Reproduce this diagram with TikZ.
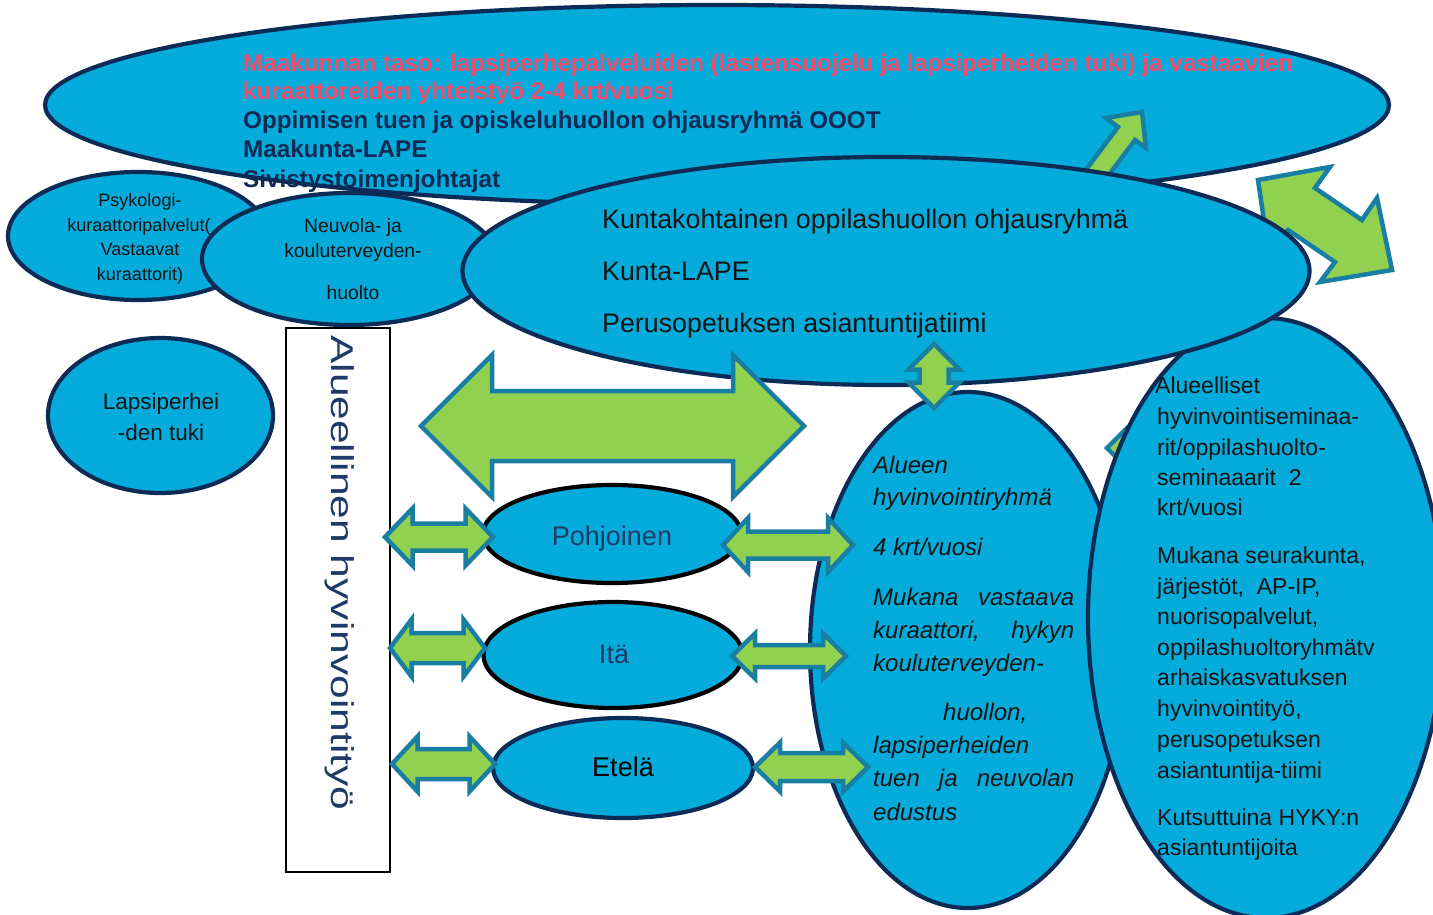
\documentclass[tikz,border=0pt]{standalone}
\usepackage{fontspec}
\setmainfont{Liberation Sans}
\newfontfamily\vertfont[FakeStretch=1.35]{Liberation Sans}
\usetikzlibrary{shapes.geometric}
\definecolor{elfill}{HTML}{05ABDA}
\definecolor{elline}{HTML}{0D2B57}
\definecolor{agreen}{HTML}{92D050}
\definecolor{ateal}{HTML}{187FA2}
\definecolor{redtxt}{HTML}{F24E6C}
\definecolor{navytxt}{HTML}{0E2A55}
\definecolor{regnavy}{HTML}{1F3A68}
\definecolor{txtblack}{HTML}{141414}
\tikzset{
  ell/.style={ellipse, draw=elline, line width=4.2pt, fill=elfill, inner sep=0pt},
  arr/.style={fill=agreen, draw=ateal, line width=4.5pt, line join=miter},
  toptext/.style={anchor=base west, inner sep=0pt, font=\fontsize{24.2}{28}\selectfont\bfseries},
  smalltext/.style={anchor=base, inner sep=0pt, text=txtblack, font=\fontsize{18}{21}\selectfont},
  neutext/.style={anchor=base, inner sep=0pt, text=txtblack, font=\fontsize{19.3}{22}\selectfont},
  kuntatext/.style={anchor=base west, inner sep=0pt, text=txtblack, font=\fontsize{26.8}{30}\selectfont},
  alutext/.style={anchor=base west, inner sep=0pt, text=txtblack, font=\fontsize{24}{28}\selectfont\itshape},
  rtext/.style={anchor=base west, inner sep=0pt, text=txtblack, font=\fontsize{23}{27}\selectfont},
  regtext/.style={anchor=base, inner sep=0pt, font=\fontsize{27}{31}\selectfont}
}
\newcommand\DArr[4]{%
  \draw[arr] (-#1,0) -- ({-#1+#2},-#3) -- ({-#1+#2},-#4) -- ({#1-#2},-#4) -- ({#1-#2},-#3) -- (#1,0)
    -- ({#1-#2},#3) -- ({#1-#2},#4) -- ({-#1+#2},#4) -- ({-#1+#2},#3) -- cycle;}
\begin{document}
\begin{tikzpicture}[x=1pt,y=-1pt]
\useasboundingbox (0,0) rectangle (1433,915);
\fill[white] (0,0) rectangle (1433,915);
\clip (0,0) rectangle (1433,915);

% top ellipse
\node[ell, minimum width=1344pt, minimum height=200pt] (top) at (717,105) {};
\node[toptext, text=redtxt] (r1) at (243,72) {Maakunnan taso: lapsiperhepalveluiden (lastensuojelu ja lapsiperheiden tuki) ja vastaavien};
\node[toptext, text=redtxt] (r2) at (243,100) {kuraattoreiden yhteistyö 2-4 krt/vuosi};
\node[toptext, text=navytxt] (n1) at (243,129) {Oppimisen tuen ja opiskeluhuollon ohjausryhmä OOOT};
\node[toptext, text=navytxt] (n2) at (243,158) {Maakunta-LAPE};
\node[toptext, text=navytxt] (n3) at (243,187) {Sivistystoimenjohtajat};

% arrows under the Kunta ellipse
\draw[arr] (1073,187) -- (1118,127) -- (1106,118) -- (1142,112) -- (1146,148) -- (1135,140) -- (1099,188) -- cycle;
\draw[arr] (1258,180) -- (1330,167) -- (1315,188) -- (1362,220) -- (1377,198) -- (1392,270) -- (1320,282) -- (1335,262) -- (1288,230) -- (1268,248) -- cycle;

% left ellipses
\node[ell, minimum width=260pt, minimum height=128pt] (psy) at (138,236) {};
\node[smalltext] (psy1) at (140,207) {Psykologi-};
\node[smalltext] (psy2) at (139,231.7) {kuraattoripalvelut(};
\node[smalltext] (psy3) at (140,255.7) {Vastaavat};
\node[smalltext] (psy4) at (140,280) {kuraattorit)};

\node[ell, minimum width=294pt, minimum height=132pt] (neu) at (349,259) {};
\node[neutext] (neu1) at (353,233) {Neuvola- ja};
\node[neutext] (neu2) at (353,257.7) {kouluterveyden-};
\node[neutext] (neu3) at (353,299.3) {huolto};

% hidden small arrow, Alueen and right ellipses
\begin{scope}[shift={(1150,448)}]\DArr{43}{18}{18}{8}\end{scope}
\node[ell, minimum width=316pt, minimum height=516pt] (alu) at (968,650) {};
\node[alutext] (a1) at (873,473) {Alueen};
\node[alutext] (a2) at (873,505.7) {hyvinvointiryhmä};
\node[alutext] (a3) at (873,555) {4 krt/vuosi};
\node[alutext] (a4) at (873,605.7) {\makebox[201pt][s]{Mukana vastaava}};
\node[alutext] (a5) at (873,638.3) {\makebox[201pt][s]{kuraattori, hykyn}};
\node[alutext] (a6) at (873,671.7) {kouluterveyden-};
\node[alutext] (a7) at (943,720) {huollon,};
\node[alutext] (a8) at (873,753.3) {lapsiperheiden};
\node[alutext] (a9) at (873,786.7) {\makebox[201pt][s]{tuen ja neuvolan}};
\node[alutext] (a10) at (873,820) {edustus};

\node[ell, minimum width=356pt, minimum height=600pt] (sem) at (1266,618) {};

% Kunta ellipse
\node[ell, minimum width=847pt, minimum height=228pt] (kun) at (886,271) {};
\node[kuntatext] (k1) at (602,228.5) {Kuntakohtainen oppilashuollon ohjausryhmä};
\node[kuntatext] (k2) at (602,280.5) {Kunta-LAPE};
\node[kuntatext] (k3) at (602,332.5) {Perusopetuksen asiantuntijatiimi};

% right ellipse text
\node[rtext] (s1) at (1155,393) {Alueelliset};
\node[rtext] (s2) at (1157,424) {hyvinvointiseminaa-};
\node[rtext] (s3) at (1157,455) {rit/oppilashuolto-};
\node[rtext] (s4) at (1157,485.7) {seminaaarit \ 2};
\node[rtext] (s5) at (1157,515) {krt/vuosi};
\node[rtext] (s6) at (1157,563.3) {Mukana seurakunta,};
\node[rtext] (s7) at (1157,594) {järjestöt, \ AP-IP,};
\node[rtext] (s8) at (1157,624.3) {nuorisopalvelut,};
\node[rtext] (s9) at (1157,655) {oppilashuoltoryhmätv};
\node[rtext] (s10) at (1157,685.7) {arhaiskasvatuksen};
\node[rtext] (s11) at (1157,716.7) {hyvinvointityö,};
\node[rtext] (s12) at (1157,747.3) {perusopetuksen};
\node[rtext] (s13) at (1157,778.3) {asiantuntija-tiimi};
\node[rtext] (s14) at (1157,825) {Kutsuttuina HYKY:n};
\node[rtext] (s15) at (1157,855) {asiantuntijoita};

% Lapsiperheiden tuki
\node[ell, minimum width=225pt, minimum height=155pt] (lap) at (160.5,415.5) {};
\node[anchor=base, inner sep=0pt, text=txtblack, font=\fontsize{22.5}{26}\selectfont] (lap1) at (161,409) {Lapsiperhei};
\node[anchor=base, inner sep=0pt, text=txtblack, font=\fontsize{22.5}{26}\selectfont] (lap2) at (161,440) {-den tuki};

% vertical box
\node[draw=black, line width=1.2pt, minimum width=104pt, minimum height=544pt, inner sep=0pt] (box) at (338,600) {};
\node[rotate=-90, anchor=base west, inner sep=0pt, text=regnavy, font=\vertfont\fontsize{31.5}{35}\selectfont] (vt) at (331,335) {Alueellinen hyvinvointityö};

% big horizontal arrow
\begin{scope}[shift={(612.5,426)}]\DArr{191.5}{71}{71}{35}\end{scope}

% regions
\node[ell, draw=black, minimum width=258pt, minimum height=98pt] (poh) at (612,534) {};
\node[regtext, text=regnavy] (poht) at (612,545) {Pohjoinen};
\node[ell, draw=black, minimum width=259pt, minimum height=106pt] (ita) at (613,655) {};
\node[regtext, text=regnavy] (itat) at (614,663.3) {Itä};
\node[ell, minimum width=260pt, minimum height=100pt] (ete) at (623,768) {};
\node[regtext, text=black] (etet) at (623,776) {Etelä};

% small double arrows
\begin{scope}[shift={(439,537)}]\DArr{54}{27.5}{28.5}{13.5}\end{scope}
\begin{scope}[shift={(437.5,648)}]\DArr{47.5}{21.5}{28.5}{15}\end{scope}
\begin{scope}[shift={(443.5,764)}]\DArr{51.5}{25.5}{27.5}{15}\end{scope}
\begin{scope}[shift={(788,545)}]\DArr{65}{25}{27}{13.5}\end{scope}
\begin{scope}[shift={(789,656)}]\DArr{57}{23}{22.5}{11}\end{scope}
\begin{scope}[shift={(811.5,767)}]\DArr{56.5}{25}{24.5}{14}\end{scope}
\begin{scope}[shift={(934,376)}, rotate=90]\DArr{32}{25.5}{25.5}{14.5}\end{scope}
\end{tikzpicture}
\end{document}
